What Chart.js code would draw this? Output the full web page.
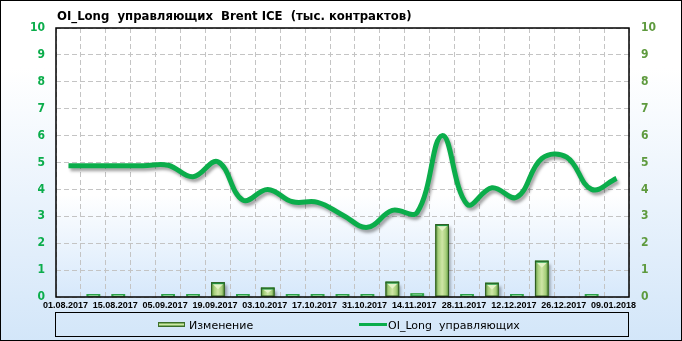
<!DOCTYPE html>
<html>
    <head>
        <meta charset="UTF-8">
        <title>OI_Long управляющих Brent ICE</title>
        <style>
            body { margin: 0; }
            #wrap {
                position: relative;
                width: 682px;
                height: 341px;
                background: linear-gradient(#ffffff, #ffffff 20%, #d3e6f9);
                overflow: hidden;
            }
            #frame {
                position: absolute; left: 0; top: 0; width: 682px; height: 341px;
                box-sizing: border-box; border: 1px solid #000; pointer-events: none;
            }
            canvas { position: absolute; left: 0; top: 0; }
            #title {
                position: absolute; left: 57px; top: 9px;
                font: bold 13px "DejaVu Sans Condensed", sans-serif; line-height: 13px;
                white-space: pre; color: #000;
            }
            #legend {
                position: absolute; left: 55px; top: 312px; width: 574px; height: 25px;
                box-sizing: border-box; border: 1px solid #000;
            }
            .lg { position: absolute; }
            .lgtext {
                position: absolute; top: 319px;
                font: 11px "DejaVu Sans", sans-serif; line-height: 13px; white-space: pre; color: #000;
            }
        </style>
        <script src="https://cdn.jsdelivr.net/npm/chart.js"></script>
    </head>
    <body>
        <div id="wrap">
            <canvas id="chart" width="682" height="341"></canvas>
            <div id="title">OI_Long  управляющих  Brent ICE  (тыс. контрактов)</div>
            <div id="legend"></div>
            <div class="lg" style="left:158px;top:322px;width:25px;height:3px;border:1px solid #3c6e2a;background:linear-gradient(#5f9a40,#cfe8a8,#5f9a40);"></div>
            <div class="lgtext" style="left:189px;">Изменение</div>
            <div class="lg" style="left:359px;top:323px;width:28px;height:3px;background:#0bad4b;"></div>
            <div class="lgtext" style="left:388px;">OI_Long  управляющих</div>
            <div id="frame"></div>
        </div>
        <script>
            const dates = ['01.08.2017', '08.08.2017', '15.08.2017', '29.08.2017', '05.09.2017', '12.09.2017',
                '19.09.2017', '26.09.2017', '03.10.2017', '10.10.2017', '17.10.2017', '24.10.2017',
                '31.10.2017', '07.11.2017', '14.11.2017', '21.11.2017', '28.11.2017', '05.12.2017',
                '12.12.2017', '19.12.2017', '26.12.2017', '02.01.2018', '09.01.2018'];

            const oiLong = [4.88, 4.88, 4.88, 4.88, 4.9, 4.47, 5.03, 3.6, 4.0, 3.54, 3.52, 3.05,
                2.59, 3.22, 3.15, 6.0, 3.45, 4.06, 3.71, 5.15, 5.2, 4.0, 4.41];

            const change = [-0.02, 0, 0, -0.02, 0, 0, 0.55, 0, 0.35, 0, 0, 0,
                0, 0.57, 0.14, 2.71, 0, 0.53, 0, 1.35, -0.3, 0, -0.2];

            const yTicks = [0, 1, 2, 3, 4, 5, 6, 7, 8, 9, 10];

            const plotBg = {
                id: 'plotBg',
                beforeDatasetsDraw(chart) {
                    const a = chart.chartArea, ctx = chart.ctx;
                    const g = ctx.createLinearGradient(0, a.top, 0, a.bottom);
                    g.addColorStop(0, '#ffffff');
                    g.addColorStop(0.62, '#ffffff');
                    g.addColorStop(1, '#d6e8fb');
                    ctx.save();
                    ctx.globalCompositeOperation = 'destination-over';
                    ctx.fillStyle = g;
                    ctx.fillRect(a.left, a.top, a.right - a.left, a.bottom - a.top);
                    ctx.restore();
                },
                afterDraw(chart) {
                    const a = chart.chartArea, ctx = chart.ctx;
                    ctx.save();
                    ctx.strokeStyle = '#000';
                    ctx.lineWidth = 1.5;
                    ctx.strokeRect(a.left, a.top, a.right - a.left, a.bottom - a.top);
                    ctx.restore();
                }
            };

            const effects = {
                id: 'effects',
                beforeDatasetDraw(chart, args) {
                    const ctx = chart.ctx;
                    ctx.save();
                    ctx.shadowColor = 'rgba(0,0,0,0.35)';
                    ctx.shadowOffsetX = 2;
                    ctx.shadowOffsetY = 3;
                    ctx.shadowBlur = 3;
                },
                afterDatasetDraw(chart, args) {
                    const ctx = chart.ctx;
                    ctx.restore();
                    if (args.meta.type !== 'bar') return;
                    ctx.save();
                    const a = chart.chartArea;
                    ctx.beginPath();
                    ctx.rect(a.left, a.top, a.right - a.left, a.bottom - a.top);
                    ctx.clip();
                    args.meta.data.forEach(function(el, i) {
                        if (change[i] < 0) return;
                        const w = el.width, x0 = el.x - w / 2, top = el.y, h = el.base - el.y;
                        if (h < 5) {
                            ctx.fillStyle = '#2aa04a';
                            ctx.fillRect(x0, top, w, h);
                            ctx.fillStyle = '#7fcf8c';
                            ctx.fillRect(x0 + 2, top + 1, w - 4, 1);
                            return;
                        }
                        const g = ctx.createLinearGradient(x0, 0, x0 + w, 0);
                        g.addColorStop(0, '#4f8a34');
                        g.addColorStop(0.22, '#a7cf7c');
                        g.addColorStop(0.5, '#cfe6a6');
                        g.addColorStop(0.78, '#a7cf7c');
                        g.addColorStop(1, '#4f8a34');
                        ctx.fillStyle = g;
                        ctx.fillRect(x0, top, w, h);
                        const b = Math.min(w / 2, h / 2, 6);
                        ctx.fillStyle = '#e4f3c8';
                        ctx.beginPath();
                        ctx.moveTo(x0 + 1, top + 1);
                        ctx.lineTo(x0 + w - 1, top + 1);
                        ctx.lineTo(x0 + w / 2, top + b + 1);
                        ctx.closePath();
                        ctx.fill();
                        ctx.fillStyle = '#1f9c45';
                        ctx.fillRect(x0, top, w, 2);
                        ctx.strokeStyle = '#2f5a22';
                        ctx.lineWidth = 1;
                        ctx.strokeRect(x0 + 0.5, top + 0.5, w - 1, h - 1);
                    });
                    ctx.restore();
                }
            };

            const gridOpts = { color: '#c4c4c4', lineWidth: 1, drawTicks: false };
            const tickFont = { family: 'DejaVu Sans Condensed', weight: 'bold', size: 12 };

            new Chart(document.getElementById('chart'), {
                type: 'bar',
                data: {
                    labels: dates,
                    datasets: [{
                        type: 'line',
                        label: 'OI_Long  управляющих',
                        data: oiLong,
                        yAxisID: 'y2',
                        borderColor: '#0bad4b',
                        borderWidth: 5,
                        tension: 0.4,
                        pointRadius: 0,
                        order: 0
                    }, {
                        type: 'bar',
                        label: 'Изменение',
                        data: change,
                        yAxisID: 'y',
                        backgroundColor: '#a7cf7c',
                        borderWidth: 0,
                        barPercentage: 0.55,
                        categoryPercentage: 1,
                        minBarLength: 3,
                        order: 1
                    }]
                },
                options: {
                    responsive: false,
                    animation: false,
                    devicePixelRatio: 1,
                    layout: { padding: { top: 28, left: 0, right: 0, bottom: 0 } },
                    plugins: { legend: { display: false }, tooltip: { enabled: false } },
                    scales: {
                        x: {
                            offset: true,
                            grid: Object.assign({ offset: true }, gridOpts),
                            border: { display: false, dash: [5, 3] },
                            ticks: {
                                autoSkip: false,
                                maxRotation: 0,
                                padding: 3,
                                labelOffset: -3,
                                color: '#000',
                                font: { family: 'Liberation Sans', weight: 'bold', size: 9 },
                                callback: function(v, i) { return i % 2 === 0 ? dates[i] : ''; }
                            },
                            afterFit: function(s) { s.height = 44; }
                        },
                        y: {
                            position: 'left',
                            min: yTicks[0],
                            max: yTicks[yTicks.length - 1],
                            grid: gridOpts,
                            border: { display: false, dash: [5, 3] },
                            ticks: { stepSize: 1, padding: 11, color: '#0bad4b', font: tickFont },
                            afterFit: function(s) { s.width = 56; }
                        },
                        y2: {
                            position: 'right',
                            min: yTicks[0],
                            max: yTicks[yTicks.length - 1],
                            grid: { drawOnChartArea: false, drawTicks: false },
                            border: { display: false },
                            ticks: { stepSize: 1, padding: 12, color: '#5e9a3e', font: tickFont },
                            afterFit: function(s) { s.width = 53; }
                        }
                    }
                },
                plugins: [plotBg, effects]
            });
        </script>
    </body>
</html>
